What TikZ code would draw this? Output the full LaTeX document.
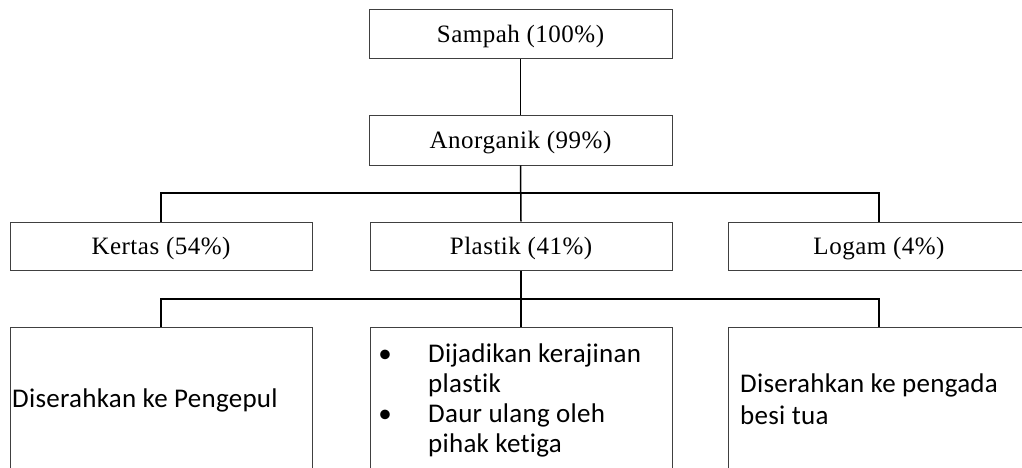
\documentclass[tikz,border=0pt]{standalone}
\usepackage{fontspec}
\newfontfamily\tnr[LetterSpace=2]{Liberation Serif}
\newfontfamily\carl[LetterSpace=1,Ligatures={NoCommon}]{Carlito}
\begin{document}
\begin{tikzpicture}[x=1pt,y=-1pt,
  box/.style={draw=black!75, line width=1pt, rectangle, inner sep=0pt},
  conn/.style={draw=black, line width=1.5pt},
  lblA/.style={font=\tnr\fontsize{25}{29}\selectfont, inner sep=0pt, anchor=base},
  lblB/.style={font=\carl\fontsize{27}{31}\selectfont, inner sep=0pt, anchor=base west}]
\useasboundingbox (0,0) rectangle (1022,468);
\clip (0,0) rectangle (1022,468);
% boxes
\node[box, minimum width=303pt, minimum height=49pt] (sampah) at (520.5,34.5) {};
\node[box, minimum width=303pt, minimum height=49pt] (anorg) at (520.5,140.5) {};
\node[box, minimum width=302pt, minimum height=48pt] (kertas) at (161,246) {};
\node[box, minimum width=302pt, minimum height=48pt] (plastik) at (521,246) {};
\node[box, minimum width=320pt, minimum height=48pt] (logam) at (888,246) {};
\node[box, minimum width=302pt, minimum height=200pt] (b1) at (161,427) {};
\node[box, minimum width=302pt, minimum height=200pt] (b2) at (521,427) {};
\node[box, minimum width=320pt, minimum height=200pt] (b3) at (888,427) {};
% junction coordinates
\coordinate (j1l) at (161,193);
\coordinate (j1r) at (879,193);
\coordinate (j2l) at (161,299);
\coordinate (j2r) at (879,299);
% connectors
\draw[conn] (sampah.south) -- (anorg.north);
\draw[conn] (anorg.south) -- (plastik.north);
\draw[conn] (kertas.north) -- (j1l) -- (j1r) -- (j1r |- logam.north);
\draw[conn] (plastik.south) -- (b2.north);
\draw[conn] (b1.north) -- (j2l) -- (j2r) -- (j2r |- b3.north);
% texts
\node[lblA] (tS) at (520.5,42.5) {Sampah (100\%)};
\node[lblA] (tA) at (520.5,148) {Anorganik (99\%)};
\node[lblA] (tK) at (161,254) {Kertas (54\%)};
\node[lblA] (tP) at (521,254) {Plastik (41\%)};
\node[lblA] (tL) at (879,254) {Logam (4\%)};
\node[lblB] (t1) at (12,407) {Diserahkan ke Pengepul};
\node[lblB, anchor=base] (bu1) at (385,362) {•};
\node[lblB] (t21) at (428,362) {Dijadikan kerajinan};
\node[lblB] (t22) at (428,392) {plastik};
\node[lblB, anchor=base] (bu2) at (385,422) {•};
\node[lblB] (t23) at (428,422) {Daur ulang oleh};
\node[lblB] (t24) at (428,452) {pihak ketiga};
\node[lblB] (t31) at (740,392) {Diserahkan ke pengada};
\node[lblB] (t32) at (740,424) {besi tua};
\end{tikzpicture}
\end{document}
